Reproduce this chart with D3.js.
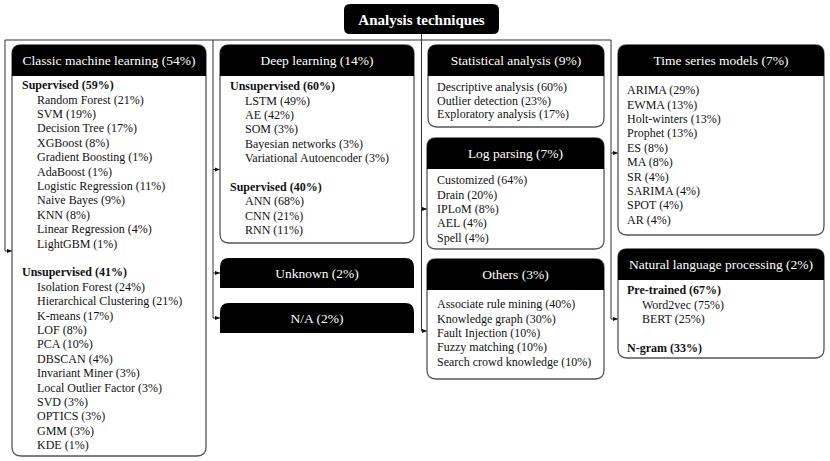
<!DOCTYPE html>
<html>
<head>
<meta charset="utf-8">
<script src="https://cdn.jsdelivr.net/npm/d3@7"></script>
<style>
  html, body { margin: 0; padding: 0; background: #fff; }
  svg { display: block; }
</style>
</head>
<body>
<div id="chart"></div>
<script>
// ----- Data -----
const rootTitle = "Analysis techniques";

const classicSupervised = [
  ["Random Forest", 21], ["SVM", 19], ["Decision Tree", 17], ["XGBoost", 8],
  ["Gradient Boosting", 1], ["AdaBoost", 1], ["Logistic Regression", 11],
  ["Naive Bayes", 9], ["KNN", 8], ["Linear Regression", 4], ["LightGBM", 1]
];
const classicUnsupervised = [
  ["Isolation Forest", 24], ["Hierarchical Clustering", 21], ["K-means", 17],
  ["LOF", 8], ["PCA", 10], ["DBSCAN", 4], ["Invariant Miner", 3],
  ["Local Outlier Factor", 3], ["SVD", 3], ["OPTICS", 3], ["GMM", 3], ["KDE", 1]
];
const deepUnsupervised = [
  ["LSTM", 49], ["AE", 42], ["SOM", 3], ["Bayesian networks", 3],
  ["Variational Autoencoder", 3]
];
const deepSupervised = [["ANN", 68], ["CNN", 21], ["RNN", 11]];
const statisticalItems = [
  ["Descriptive analysis", 60], ["Outlier detection", 23], ["Exploratory analysis", 17]
];
const logParsingItems = [
  ["Customized", 64], ["Drain", 20], ["IPLoM", 8], ["AEL", 4], ["Spell", 4]
];
const otherItems = [
  ["Associate rule mining", 40], ["Knowledge graph", 30], ["Fault Injection", 10],
  ["Fuzzy matching", 10], ["Search crowd knowledge", 10]
];
const timeSeriesItems = [
  ["ARIMA", 29], ["EWMA", 13], ["Holt-winters", 13], ["Prophet", 13], ["ES", 8],
  ["MA", 8], ["SR", 4], ["SARIMA", 4], ["SPOT", 4], ["AR", 4]
];
const nlpPretrained = [["Word2vec", 75], ["BERT", 25]];

// Categories: [label, share]
const categories = [
  ["Classic machine learning", 54], ["Deep learning", 14], ["Unknown", 2],
  ["N/A", 2], ["Statistical analysis", 9], ["Log parsing", 7], ["Others", 3],
  ["Time series models", 7], ["Natural language processing", 2]
];
// Sub-groups: [label, share]
const classicGroups = [["Supervised", 59], ["Unsupervised", 41]];
const deepGroups = [["Unsupervised", 60], ["Supervised", 40]];
const nlpGroups = [["Pre-trained", 67], ["N-gram", 33]];

const fmt = (name, p) => `${name} (${p}%)`;

// ----- Layout (positions only) -----
const W = 830, H = 461;
const FONT = '"Liberation Serif", "Times New Roman", serif';
const LINE = 14.4;
const HEAD = 31;

// body: list of sections, each {group, items}; group null = plain list
const boxes = [
  { cat: 0, x: 12, y: 45, w: 194, h: 411, first: 40, bx: 22, ix: 37, arrow: 251,
    body: [{ group: classicGroups[0], items: classicSupervised },
           { group: classicGroups[1], items: classicUnsupervised }] },
  { cat: 1, x: 220, y: 45, w: 194, h: 198, first: 41, bx: 230, ix: 245, arrow: 169.5,
    body: [{ group: deepGroups[0], items: deepUnsupervised },
           { group: deepGroups[1], items: deepSupervised }] },
  { cat: 2, x: 220, y: 258, w: 194, h: 30, arrow: 273, solid: true },
  { cat: 3, x: 220, y: 303, w: 194, h: 30, arrow: 318, solid: true },
  { cat: 4, x: 428, y: 45, w: 176, h: 82, first: 42, ix: 437, line: 13.4,
    body: [{ group: null, items: statisticalItems }] },
  { cat: 5, x: 427, y: 138, w: 177, h: 111, first: 42, ix: 437, arrow: 209,
    body: [{ group: null, items: logParsingItems }] },
  { cat: 6, x: 427, y: 259, w: 177, h: 120, first: 45, ix: 437, arrow: 331,
    body: [{ group: null, items: otherItems }] },
  { cat: 7, x: 618, y: 45, w: 206, h: 190, first: 45, ix: 627, arrow: 153,
    body: [{ group: null, items: timeSeriesItems }] },
  { cat: 8, x: 618, y: 249, w: 206, h: 109, first: 41, bx: 627, ix: 642, arrow: 319,
    body: [{ group: nlpGroups[0], items: nlpPretrained },
           { group: nlpGroups[1], items: [] }] }
];

// trunks: vertical connector x, top y, and which boxes hang off it
const trunks = [
  { x: 5, top: 40, boxes: [0] },
  { x: 213, top: 40, boxes: [1, 2, 3] },
  { x: 421.5, top: 34, boxes: [5, 6] },
  { x: 611, top: 40, boxes: [7, 8] }
];

// ----- Draw -----
const svg = d3.select("#chart").append("svg")
  .attr("width", W).attr("height", H);

svg.append("defs").append("marker")
  .attr("id", "arr")
  .attr("viewBox", "0 0 6 6")
  .attr("refX", 6).attr("refY", 3)
  .attr("markerWidth", 5).attr("markerHeight", 5)
  .attr("markerUnits", "userSpaceOnUse")
  .attr("orient", "auto")
  .append("path").attr("d", "M0,0.5L6,3L0,5.5Z").attr("fill", "#111");

// connectors
const conn = svg.append("g")
  .attr("stroke", "#333").attr("stroke-width", 1).attr("fill", "none");

conn.append("line")
  .attr("x1", trunks[0].x).attr("x2", trunks[trunks.length - 1].x)
  .attr("y1", 40).attr("y2", 40);

trunks.forEach(t => {
  const ys = t.boxes.map(i => boxes[i].arrow);
  conn.append("line")
    .attr("x1", t.x).attr("x2", t.x)
    .attr("y1", t.top).attr("y2", d3.max(ys));
  t.boxes.forEach(i => {
    const b = boxes[i];
    conn.append("line")
      .attr("x1", t.x).attr("x2", b.x)
      .attr("y1", b.arrow).attr("y2", b.arrow)
      .attr("marker-end", "url(#arr)");
  });
});

// rounded-top path helper
function topRounded(x, y, w, h, r) {
  return `M${x},${y + h}V${y + r}Q${x},${y} ${x + r},${y}H${x + w - r}` +
    `Q${x + w},${y} ${x + w},${y + r}V${y + h}Z`;
}
function allRounded(x, y, w, h, r) {
  const p = d3.path();
  p.moveTo(x + r, y);
  p.lineTo(x + w - r, y); p.quadraticCurveTo(x + w, y, x + w, y + r);
  p.lineTo(x + w, y + h - r); p.quadraticCurveTo(x + w, y + h, x + w - r, y + h);
  p.lineTo(x + r, y + h); p.quadraticCurveTo(x, y + h, x, y + h - r);
  p.lineTo(x, y + r); p.quadraticCurveTo(x, y, x + r, y);
  p.closePath();
  return p.toString();
}

function label(g, x, y, txt, size, opts = {}) {
  return g.append("text")
    .attr("x", x).attr("y", y)
    .attr("text-anchor", opts.anchor || "start")
    .attr("fill", opts.fill || "#111")
    .style("font-family", FONT)
    .style("font-size", size + "px")
    .style("font-weight", opts.bold ? "bold" : "normal")
    .text(txt);
}

const R = 9;
boxes.forEach(b => {
  const [name, pct] = categories[b.cat];
  const g = svg.append("g");
  if (b.solid) {
    g.append("path").attr("d", topRounded(b.x, b.y, b.w, b.h, R)).attr("fill", "#000");
  } else {
    g.append("path").attr("d", allRounded(b.x, b.y, b.w, b.h, R))
      .attr("fill", "#fff").attr("stroke", "#555").attr("stroke-width", 1.3);
    g.append("path").attr("d", topRounded(b.x, b.y, b.w, HEAD, R)).attr("fill", "#000");
  }
  const hh = b.solid ? b.h : HEAD;
  label(g, b.x + b.w / 2, b.y + hh / 2 + 4.8, fmt(name, pct), 13.5,
    { anchor: "middle", fill: "#fff" });

  if (!b.body) return;
  const lh = b.line || LINE;
  let row = 0;
  b.body.forEach((sec, si) => {
    if (si > 0) row += 1;
    if (sec.group) {
      label(g, b.bx, b.y + b.first + row * lh + 4.2,
        fmt(sec.group[0], sec.group[1]), 12, { bold: true });
      row += 1;
    }
    g.selectAll(null).data(sec.items).enter().append("text")
      .attr("x", b.ix)
      .attr("y", (d, i) => b.y + b.first + (row + i) * lh + 4.2)
      .attr("fill", "#111")
      .style("font-family", FONT)
      .style("font-size", "12px")
      .text(d => fmt(d[0], d[1]));
    row += sec.items.length;
  });
});

// root title box
svg.append("path").attr("d", allRounded(344, 4, 155, 30, 6)).attr("fill", "#000");
label(svg, 421.5, 24.5, rootTitle, 15, { anchor: "middle", fill: "#fff", bold: true });
</script>
</body>
</html>
